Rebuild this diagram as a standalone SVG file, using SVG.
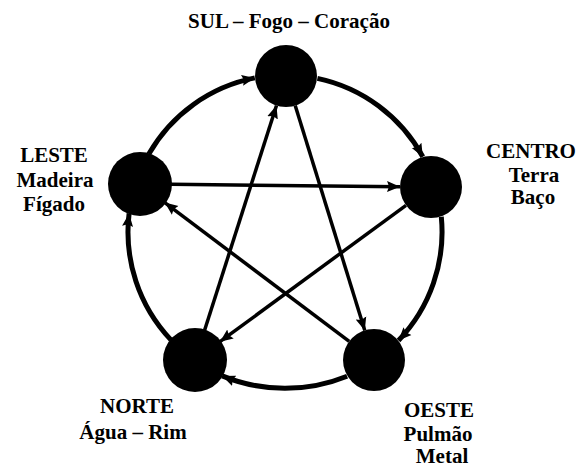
<svg xmlns="http://www.w3.org/2000/svg" width="578" height="467" viewBox="0 0 578 467">
<defs>
<style>
.node{fill:#000}
.outer{fill:none;stroke:#000;stroke-width:5;marker-end:url(#ah)}
.inner{fill:none;stroke:#000;stroke-width:3.5;marker-end:url(#ah)}
.lbl{font-size:21px;font-weight:bold;fill:#000;text-anchor:middle}
</style>
<marker id="ah" markerUnits="userSpaceOnUse" markerWidth="16" markerHeight="14" refX="13" refY="6" orient="auto" viewBox="0 0 16 12">
<path d="M0,0.5 L13,6 L0,11.5 L2,6 Z" fill="#000"/>
</marker>
</defs>
<rect width="578" height="467" fill="#fff"/>
<g id="connectors">
<path class="outer" d="M148.8,154 A157,157 0 0 1 254.8,77.9"/>
<path class="outer" d="M317.4,78.4 A157,157 0 0 1 422.8,156.8"/>
<path class="outer" d="M441.3,216.7 A157,157 0 0 1 398.5,340.5"/>
<path class="outer" d="M347.1,376.2 A165,165 0 0 1 222.2,375.9"/>
<path class="outer" d="M170.9,339.9 A157,157 0 0 1 129.1,213.4"/>
<path class="inner" d="M171,184.3 L400,186.7"/>
<path class="inner" d="M204.5,330.5 L276.5,105.5"/>
<path class="inner" d="M295.2,105.6 L364.8,330.4"/>
<path class="inner" d="M406,205.3 L220,341.7"/>
<path class="inner" d="M349.2,341.4 L164.8,202.6"/>
</g>
<g font-family="'Liberation Serif', 'DejaVu Serif', serif">
<g id="sul"><circle class="node" cx="286" cy="76" r="31"/><text class="lbl" x="289" y="28">SUL – Fogo – Coração</text></g>
<g id="leste"><circle class="node" cx="140" cy="184" r="32"/><text class="lbl" x="54" y="162">LESTE</text><text class="lbl" x="55" y="187">Madeira</text><text class="lbl" x="54" y="211">Fígado</text></g>
<g id="centro"><circle class="node" cx="431" cy="187" r="31"/><text class="lbl" x="531" y="158">CENTRO</text><text class="lbl" x="534" y="182">Terra</text><text class="lbl" x="533" y="204">Baço</text></g>
<g id="norte"><circle class="node" cx="195" cy="360" r="32"/><text class="lbl" x="137" y="413">NORTE</text><text class="lbl" x="133" y="439">Água – Rim</text></g>
<g id="oeste"><circle class="node" cx="374" cy="360" r="31"/><text class="lbl" x="439" y="417">OESTE</text><text class="lbl" x="438" y="441">Pulmão</text><text class="lbl" x="442" y="463">Metal</text></g>
</g>
</svg>
